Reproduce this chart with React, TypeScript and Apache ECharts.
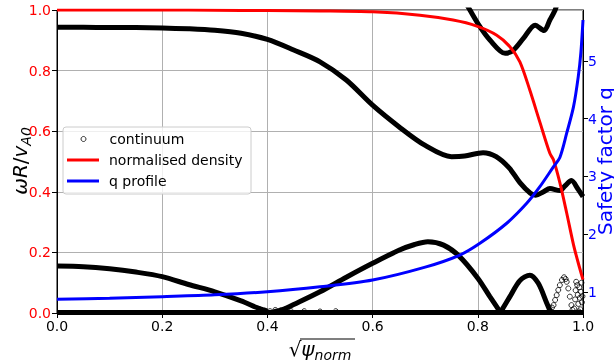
import React, { useEffect, useRef } from 'react';
import * as echarts from 'echarts';

const FONT = 'DejaVu Sans';

// x-axis tick labels
const xTicks = [0, 0.2, 0.4, 0.6, 0.8, 1.0];
const qTicks = [1, 2, 3, 4, 5];

// continuum: upper branch
const topX = [0, 0.05, 0.1, 0.15, 0.2, 0.25, 0.3, 0.35, 0.4, 0.45, 0.5, 0.55, 0.6, 0.65, 0.7, 0.75, 0.775, 0.81, 0.835, 0.86, 0.88, 0.9, 0.91, 0.925, 0.937, 0.956, 0.966, 0.978, 0.99, 1.0];
const topY = [0.943, 0.943, 0.942, 0.942, 0.941, 0.938, 0.933, 0.923, 0.903, 0.868, 0.829, 0.769, 0.686, 0.615, 0.553, 0.516, 0.518, 0.529, 0.516, 0.478, 0.43, 0.395, 0.389, 0.4, 0.411, 0.404, 0.42, 0.437, 0.41, 0.384];

// continuum: top-right branch (above 0.85)
const upX = [0.775, 0.785, 0.804, 0.823, 0.852, 0.868, 0.887, 0.909, 0.926, 0.937, 0.947, 0.952];
const upY = [1.03, 1.0, 0.945, 0.901, 0.857, 0.868, 0.907, 0.95, 0.932, 0.967, 1.0, 1.03];

// continuum: lower branches
const lowAX = [0, 0.05, 0.1, 0.15, 0.2, 0.25, 0.3, 0.35, 0.38, 0.4];
const lowAY = [0.155, 0.153, 0.146, 0.135, 0.12, 0.094, 0.07, 0.04, 0.018, 0.006];
const lowBX = [0.41, 0.43, 0.45, 0.5, 0.55, 0.6, 0.65, 0.68, 0.705, 0.735, 0.765, 0.8, 0.823, 0.843];
const lowBY = [0.003, 0.012, 0.028, 0.07, 0.118, 0.164, 0.207, 0.226, 0.235, 0.224, 0.187, 0.115, 0.054, 0.002];
const lowCX = [0.843, 0.861, 0.88, 0.899, 0.915, 0.931, 0.938];
const lowCY = [0.002, 0.054, 0.107, 0.125, 0.098, 0.033, 0.004];

// continuum: zero line
const zeroX = [0, 1];
const zeroY = [0.002, 0.002];

// continuum: sparse points
const sparseX = [0.937, 0.941, 0.944, 0.947, 0.95, 0.953, 0.956, 0.96, 0.964, 0.967, 0.969, 0.972, 0.975, 0.978, 0.98,
  0.983, 0.985, 0.986, 0.987, 0.989, 0.99, 0.991, 0.992, 0.993, 0.994, 0.995, 0.996, 0.997, 0.998, 0.999,
  0.385, 0.395, 0.405, 0.415, 0.425, 0.435, 0.445, 0.47, 0.5, 0.53];
const sparseY = [0.01, 0.018, 0.026, 0.043, 0.059, 0.076, 0.092, 0.109, 0.118, 0.112, 0.103, 0.081, 0.054, 0.026, 0.01,
  0.015, 0.045, 0.075, 0.103, 0.092, 0.06, 0.03, 0.005, 0.085, 0.05, 0.012, 0.07, 0.1, 0.035, 0.055,
  0.012, 0.008, 0.006, 0.01, 0.008, 0.012, 0.006, 0.006, 0.005, 0.006];

// normalised density
const densX = [0, 0.1, 0.2, 0.3, 0.4, 0.5, 0.6, 0.69, 0.753, 0.798, 0.836, 0.861, 0.88, 0.899, 0.918, 0.937, 0.944, 0.956, 0.969, 0.982, 0.991, 1.0];
const densY = [1.0, 1.0, 1.0, 0.999, 0.998, 0.997, 0.994, 0.983, 0.967, 0.947, 0.917, 0.879, 0.829, 0.735, 0.63, 0.527, 0.505, 0.43, 0.33, 0.225, 0.165, 0.11];

// q profile
const qX = [0, 0.1, 0.2, 0.3, 0.4, 0.5, 0.6, 0.7, 0.766, 0.804, 0.855, 0.893, 0.918, 0.944, 0.956, 0.969, 0.982, 0.991, 0.996, 1.0];
const qY = [0.873, 0.89, 0.918, 0.95, 1.003, 1.09, 1.207, 1.43, 1.64, 1.843, 2.19, 2.535, 2.823, 3.17, 3.33, 3.75, 4.21, 4.73, 5.15, 5.71];

const pairs = (xs: number[], ys: number[]) => xs.map((x, i) => [x, ys[i]]);

export default function App() {
  const ref = useRef<HTMLDivElement>(null);
  useEffect(() => {
    const chart = echarts.init(ref.current!, null, { renderer: 'svg' });
    const contLine = (xs: number[], ys: number[], smooth: number | boolean) => ({
      type: 'line',
      name: 'continuum',
      data: pairs(xs, ys),
      smooth,
      showSymbol: false,
      yAxisIndex: 0,
      lineStyle: { color: '#000', width: 5 },
      itemStyle: { color: '#000' },
      silent: true,
    });
    const legendText = { fontSize: 14, fontFamily: FONT, color: '#000', lineHeight: 14, padding: [0, 0, 0, 5] };
    const option: any = {
      animation: false,
      grid: { left: 57, right: 31, top: 10, bottom: 50, show: true, borderColor: '#000', borderWidth: 1, backgroundColor: 'transparent' },
      xAxis: {
        type: 'value', min: xTicks[0], max: xTicks[xTicks.length - 1], interval: 0.2,
        axisLine: { lineStyle: { color: '#000', width: 1 } },
        axisTick: { length: 5, lineStyle: { color: '#000' } },
        axisLabel: { color: '#000', fontSize: 14, fontFamily: FONT, margin: 6, formatter: (v: number) => v.toFixed(1) },
        splitLine: { show: true, lineStyle: { color: '#b0b0b0', width: 1 } },
      },
      yAxis: [
        {
          type: 'value', min: 0, max: 1, interval: 0.2, position: 'left',
          axisLine: { show: true, lineStyle: { color: '#000', width: 1 } },
          axisTick: { show: true, length: 5, lineStyle: { color: '#000' } },
          axisLabel: { color: '#ff0000', fontSize: 14, fontFamily: FONT, margin: 6, formatter: (v: number) => v.toFixed(1) },
          splitLine: { show: true, lineStyle: { color: '#b0b0b0', width: 1 } },
        },
        {
          type: 'value', min: 0.636, max: 5.883, position: 'right',
          axisLine: { show: true, lineStyle: { color: '#000', width: 1 } },
          axisTick: { show: true, length: 5, lineStyle: { color: '#000' }, customValues: qTicks },
          axisLabel: { color: '#0000ff', fontSize: 14, fontFamily: FONT, margin: 5, customValues: qTicks, formatter: (v: number) => String(v) },
          splitLine: { show: false },
        },
      ],
      legend: [
        {
          data: [{ name: 'continuum', icon: 'circle', itemStyle: { color: 'rgba(0,0,0,0)', borderColor: '#000', borderWidth: 1 } }],
          left: 80.5, top: 132, orient: 'vertical', itemWidth: 32, itemHeight: 5, padding: 0, selectedMode: false, z: 20,
          textStyle: legendText,
        },
        {
          data: [{ name: 'normalised density', icon: 'rect' }],
          left: 67, top: 153, orient: 'vertical', itemWidth: 32, itemHeight: 3, padding: 0, selectedMode: false, z: 20,
          textStyle: legendText,
        },
        {
          data: [{ name: 'q profile', icon: 'rect' }],
          left: 67, top: 174, orient: 'vertical', itemWidth: 32, itemHeight: 3, padding: 0, selectedMode: false, z: 20,
          textStyle: legendText,
        },
      ],
      graphic: [
        { type: 'rect', z: 15, shape: { x: 63, y: 127, width: 188, height: 67, r: 3 }, style: { fill: 'rgba(255,255,255,0.8)', stroke: '#cccccc', lineWidth: 1 } },
        {
          type: 'text', x: 21, y: 161, rotation: Math.PI / 2,
          style: {
            text: '{i|ωR}{n|/}{i|v}{s|A0}', align: 'center', verticalAlign: 'middle',
            rich: {
              i: { fontSize: 20, fontFamily: FONT, fontStyle: 'italic', fill: '#000', color: '#000', verticalAlign: 'bottom', padding: [0, 0, 3, 0] },
              n: { fontSize: 20, fontFamily: FONT, fill: '#000', color: '#000', verticalAlign: 'bottom', padding: [0, 0, 3, 0] },
              s: { fontSize: 14, fontFamily: FONT, fontStyle: 'italic', fill: '#000', color: '#000', verticalAlign: 'bottom' },
            },
          },
        },
        {
          type: 'text', x: 605, y: 161, rotation: Math.PI / 2,
          style: { text: 'Safety factor q', fill: '#0000ff', fontSize: 20, fontFamily: FONT, align: 'center', verticalAlign: 'middle' },
        },
        {
          type: 'text', x: 320, y: 350,
          style: {
            text: '{r|√}{i|ψ}{s|norm}', align: 'center', verticalAlign: 'middle',
            rich: {
              r: { fontSize: 20, fontFamily: FONT, fill: '#000', color: '#000', verticalAlign: 'bottom', padding: [0, 0, 3, 0] },
              i: { fontSize: 20, fontFamily: FONT, fontStyle: 'italic', fill: '#000', color: '#000', verticalAlign: 'bottom', padding: [0, 0, 3, 0] },
              s: { fontSize: 14, fontFamily: FONT, fontStyle: 'italic', fill: '#000', color: '#000', verticalAlign: 'bottom' },
            },
          },
        },
        { type: 'line', shape: { x1: 300, y1: 339, x2: 355, y2: 339 }, style: { stroke: '#000', lineWidth: 1.2 } },
      ],
      series: [
        {
          type: 'scatter', name: 'continuum', data: pairs(sparseX, sparseY), yAxisIndex: 0,
          symbol: 'circle', symbolSize: 5,
          itemStyle: { color: 'rgba(0,0,0,0)', borderColor: '#000', borderWidth: 1 }, silent: true,
        },
        contLine(zeroX, zeroY, false),
        contLine(topX, topY, 0.3),
        contLine(upX, upY, 0.3),
        contLine(lowAX, lowAY, 0.3),
        contLine(lowBX, lowBY, 0.3),
        contLine(lowCX, lowCY, 0.3),
        {
          type: 'line', name: 'normalised density', data: pairs(densX, densY), yAxisIndex: 0, smooth: 0.3, showSymbol: false,
          lineStyle: { color: '#ff0000', width: 3 }, itemStyle: { color: '#ff0000' }, silent: true,
        },
        {
          type: 'line', name: 'q profile', data: pairs(qX, qY), yAxisIndex: 1, smooth: 0.3, showSymbol: false,
          lineStyle: { color: '#0000ff', width: 3 }, itemStyle: { color: '#0000ff' }, silent: true,
        },
      ],
    };
    chart.setOption(option);
    return () => chart.dispose();
  }, []);
  return <div ref={ref} style={{ position: 'fixed', left: 0, top: 0, width: 614, height: 363 }} />;
}
